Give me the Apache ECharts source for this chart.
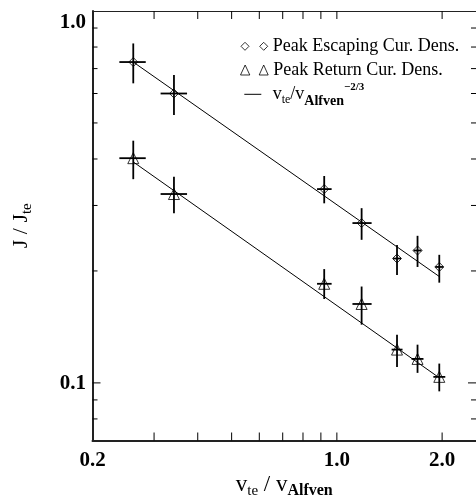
<!DOCTYPE html>
<html><head><meta charset="utf-8">
<script src="https://cdn.jsdelivr.net/npm/echarts@6/dist/echarts.min.js"></script>
<style>html,body{margin:0;padding:0;background:#fff}#c{width:476px;height:504px}</style>
</head><body><div id="c"></div>
<script>
// ---- data ----
const xVals     = [0.2616, 0.342, 0.920, 1.177, 1.486, 1.701, 1.963];
const escY      = [0.729, 0.600, 0.332, 0.269, 0.216, 0.227, 0.205];
const escYLow   = [0.639, 0.525, 0.304, 0.2425, 0.195, 0.205, 0.186];
const escYHigh  = [0.818, 0.6725, 0.360, 0.295, 0.235, 0.2486, 0.221];
const escXLow   = [0.2387, 0.3132, 0.8776, 1.108, 1.448, 1.657, 1.913];
const escXHigh  = [0.2840, 0.3728, 0.9660, 1.257, 1.526, 1.746, 2.016];
const retY      = [0.402, 0.322, 0.1847, 0.163, 0.1229, 0.116, 0.1038];
const retYLow   = [0.353, 0.286, 0.1681, 0.1434, 0.1104, 0.1064, 0.0949];
const retYHigh  = [0.448, 0.3585, 0.2023, 0.1816, 0.1348, 0.1267, 0.1127];
const retXLow   = [0.2387, 0.3132, 0.8776, 1.108, 1.434, 1.635, 1.888];
const retXHigh  = [0.2840, 0.3728, 0.9660, 1.257, 1.541, 1.769, 2.042];
const escFitX   = [0.2616, 1.963];
const escFitY   = [0.729, 0.1932];
const retFitX   = [0.2616, 1.963];
const retFitY   = [0.3928, 0.1032];
const xTickVals = [0.3, 0.4, 0.5, 0.6, 0.7, 0.8, 0.9, 1.0, 2.0];
const yMinorTicks = [0.08, 0.09, 0.2, 0.3, 0.4, 0.5, 0.6, 0.7, 0.8, 0.9];
const yMajorTicks = [0.1];
const xLabelVals = [0.2, 1.0, 2.0];
const xLabelText = ['0.2', '1.0', '2.0'];
const yLabelVals = [0.1, 1.0];
const yLabelText = ['0.1', '1.0'];
const X_MIN = 0.2, X_MAX = 2.5, Y_MIN = 0.07, Y_MAX = 1.0;
const NAME_ESC = 'Peak Escaping Cur. Dens.';
const NAME_RET = 'Peak Return Cur. Dens.';
const NAME_FIT = 'fit';

const SERIF = '"Liberation Serif","Times New Roman",serif';
const chart = echarts.init(document.getElementById('c'), null, {renderer: 'canvas'});

function errRows(ys, xl, xh, yl, yh) {
  return xVals.map((x, i) => [x, ys[i], xl[i], xh[i], yl[i], yh[i]]);
}
function errRender(params, api) {
  const x = api.value(0), y = api.value(1);
  const c = api.coord([x, y]);
  const l = api.coord([api.value(2), y]);
  const r = api.coord([api.value(3), y]);
  const lo = api.coord([x, api.value(4)]);
  const hi = api.coord([x, api.value(5)]);
  const st = {stroke: '#000', lineWidth: 1.8};
  return {type: 'group', children: [
    {type: 'line', shape: {x1: l[0], y1: c[1], x2: r[0], y2: c[1]}, style: st},
    {type: 'line', shape: {x1: c[0], y1: hi[1], x2: c[0], y2: lo[1]}, style: st}
  ]};
}
const tickStyle = {stroke: '#000', lineWidth: 1};
function xTickRender(params, api) {
  const p = api.coord([api.value(0), Y_MIN]);
  const cs = params.coordSys, L = 8, b = cs.y + cs.height;
  return {type: 'group', children: [
    {type: 'line', shape: {x1: p[0], y1: b, x2: p[0], y2: b - L}, style: tickStyle},
    {type: 'line', shape: {x1: p[0], y1: cs.y, x2: p[0], y2: cs.y + L}, style: tickStyle}
  ]};
}
function yTickRender(L) {
  return function (params, api) {
    const p = api.coord([X_MIN, api.value(1)]);
    const cs = params.coordSys, r = cs.x + cs.width;
    return {type: 'group', children: [
      {type: 'line', shape: {x1: cs.x, y1: p[1], x2: cs.x + L, y2: p[1]}, style: tickStyle},
      {type: 'line', shape: {x1: r, y1: p[1], x2: r - L, y2: p[1]}, style: tickStyle}
    ]};
  };
}
const labelFont = 'bold 21px ' + SERIF;
function xLabelRender(params, api) {
  const p = api.coord([api.value(0), Y_MIN]);
  return {type: 'text', style: {text: xLabelText[params.dataIndex], x: p[0], y: p[1] + 20,
    font: labelFont, fill: '#000', align: 'center', verticalAlign: 'middle'}};
}
function yLabelRender(params, api) {
  const v = api.value(1);
  const p = api.coord([X_MIN, v]);
  const atTop = v >= Y_MAX;
  return {type: 'text', style: {text: yLabelText[params.dataIndex], x: p[0] - 6.5, y: p[1] + 1,
    font: labelFont, fill: '#000', align: 'right', verticalAlign: atTop ? 'top' : 'middle'}};
}

const option = {
  backgroundColor: '#fff',
  animation: false,
  grid: {left: 89, top: 11, right: -1.5, bottom: 63, containLabel: false},
  xAxis: [
    {type: 'log', logBase: 10, min: X_MIN, max: X_MAX, position: 'bottom',
     axisLine: {show: true, lineStyle: {color: '#222', width: 2}},
     axisTick: {show: false}, axisLabel: {show: false}, splitLine: {show: false},
     name: '{v|v}{s|te}{v| / v}{sb|Alfven}', nameLocation: 'middle', nameGap: 33,
     nameTextStyle: {rich: {
       v: {fontFamily: SERIF, fontSize: 23, lineHeight: 23, color: '#000'},
       s: {fontFamily: SERIF, fontSize: 15, lineHeight: 15, padding: [12, 0, 0, 0], color: '#000'},
       sb: {fontFamily: SERIF, fontSize: 16, fontWeight: 'bold', lineHeight: 16, padding: [12, 0, 0, 0], color: '#000'}
     }}},
    {type: 'log', logBase: 10, min: X_MIN, max: X_MAX, position: 'top',
     axisLine: {show: true, lineStyle: {color: '#222', width: 1}},
     axisTick: {show: false}, axisLabel: {show: false}, splitLine: {show: false}}
  ],
  yAxis: [
    {type: 'log', logBase: 10, min: Y_MIN, max: Y_MAX, position: 'left',
     axisLine: {show: true, lineStyle: {color: '#222', width: 2}},
     axisTick: {show: false}, axisLabel: {show: false}, splitLine: {show: false},
     name: '{v|J / J}{s|te}', nameLocation: 'middle', nameGap: 60, nameRotate: 90,
     nameTextStyle: {rich: {
       v: {fontFamily: SERIF, fontSize: 22, lineHeight: 22, color: '#000'},
       s: {fontFamily: SERIF, fontSize: 15, lineHeight: 15, padding: [12, 0, 0, 0], color: '#000'}
     }}},
    {type: 'log', logBase: 10, min: Y_MIN, max: Y_MAX, position: 'right',
     axisLine: {show: true, lineStyle: {color: '#222', width: 1}},
     axisTick: {show: false}, axisLabel: {show: false}, splitLine: {show: false}}
  ],
  legend: [
    {show: true, selectedMode: false, orient: 'vertical', left: 240.5, top: 37.3, padding: 0,
     itemWidth: 26.7, itemHeight: 8,
     data: [{name: NAME_ESC, icon: 'path://M4 0L8 4L4 8L0 4Z M22.7 0L26.7 4L22.7 8L18.7 4Z',
             itemStyle: {color: 'rgba(0,0,0,0)', borderColor: '#000', borderWidth: 1}}],
     textStyle: {fontFamily: SERIF, fontSize: 18, lineHeight: 18, color: '#000'}},
    {show: true, selectedMode: false, orient: 'vertical', left: 240, top: 61, padding: 0,
     itemWidth: 27.7, itemHeight: 10,
     data: [{name: NAME_RET, icon: 'path://M4.65 0L9.3 10L0 10Z M23.2 0L27.7 10L18.7 10Z',
             itemStyle: {color: 'rgba(0,0,0,0)', borderColor: '#000', borderWidth: 1}}],
     textStyle: {fontFamily: SERIF, fontSize: 18, lineHeight: 18, color: '#000'}},
    {show: true, selectedMode: false, orient: 'vertical', left: 244.3, top: 80.4, padding: 0,
     itemWidth: 17, itemHeight: 1,
     data: [{name: NAME_FIT, icon: 'rect', itemStyle: {color: '#000'}}],
     formatter: function () { return '{m|v}{s|te}{m|/v}{sb|Alfven}{sup|\u22122/3}'; },
     textStyle: {padding: [0, 0, 0, 6.4], color: '#000', rich: {
       m: {fontFamily: SERIF, fontSize: 18, lineHeight: 18, color: '#000'},
       s: {fontFamily: SERIF, fontSize: 12, lineHeight: 12, padding: [11.6, 0, 0, 0], color: '#000'},
       sb: {fontFamily: SERIF, fontSize: 14, fontWeight: 'bold', lineHeight: 14, padding: [13.8, 0, 0, 0], color: '#000'},
       sup: {fontFamily: SERIF, fontSize: 11, fontWeight: 'bold', lineHeight: 11, padding: [0, 0, 14.4, 0], color: '#000'}
     }}}
  ],
  series: [
    {type: 'custom', name: 'escErr', silent: true, z: 3, renderItem: errRender,
     encode: {x: 0, y: 1}, data: errRows(escY, escXLow, escXHigh, escYLow, escYHigh)},
    {type: 'custom', name: 'retErr', silent: true, z: 3, renderItem: errRender,
     encode: {x: 0, y: 1}, data: errRows(retY, retXLow, retXHigh, retYLow, retYHigh)},
    {type: 'line', name: NAME_FIT, z: 4, showSymbol: false, symbol: 'none', silent: true,
     lineStyle: {color: '#000', width: 1}, itemStyle: {color: '#000'},
     data: escFitX.map((x, i) => [x, escFitY[i]])},
    {type: 'line', name: NAME_FIT, z: 4, showSymbol: false, symbol: 'none', silent: true,
     lineStyle: {color: '#000', width: 1}, itemStyle: {color: '#000'},
     data: retFitX.map((x, i) => [x, retFitY[i]])},
    {type: 'scatter', name: NAME_ESC, z: 5, symbol: 'diamond', symbolSize: 9, silent: true,
     itemStyle: {color: 'rgba(0,0,0,0)', borderColor: '#000', borderWidth: 1},
     data: xVals.map((x, i) => [x, escY[i]])},
    {type: 'scatter', name: NAME_RET, z: 5, symbol: 'triangle', symbolSize: [11, 11], silent: true,
     itemStyle: {color: 'rgba(0,0,0,0)', borderColor: '#000', borderWidth: 1},
     data: xVals.map((x, i) => [x, retY[i]])},
    {type: 'custom', name: 'xTicks', silent: true, clip: false, z: 6, renderItem: xTickRender,
     encode: {x: 0, y: 1}, data: xTickVals.map(v => [v, Y_MIN])},
    {type: 'custom', name: 'yMinor', silent: true, clip: false, z: 6, renderItem: yTickRender(5),
     encode: {x: 0, y: 1}, data: yMinorTicks.map(v => [X_MIN, v])},
    {type: 'custom', name: 'yMajor', silent: true, clip: false, z: 6, renderItem: yTickRender(8),
     encode: {x: 0, y: 1}, data: yMajorTicks.map(v => [X_MIN, v])},
    {type: 'custom', name: 'xLabels', silent: true, clip: false, z: 6, renderItem: xLabelRender,
     encode: {x: 0, y: 1}, data: xLabelVals.map(v => [v, Y_MIN])},
    {type: 'custom', name: 'yLabels', silent: true, clip: false, z: 6, renderItem: yLabelRender,
     encode: {x: 0, y: 1}, data: yLabelVals.map(v => [X_MIN, v])}
  ]
};
chart.setOption(option);
</script>
</body></html>
